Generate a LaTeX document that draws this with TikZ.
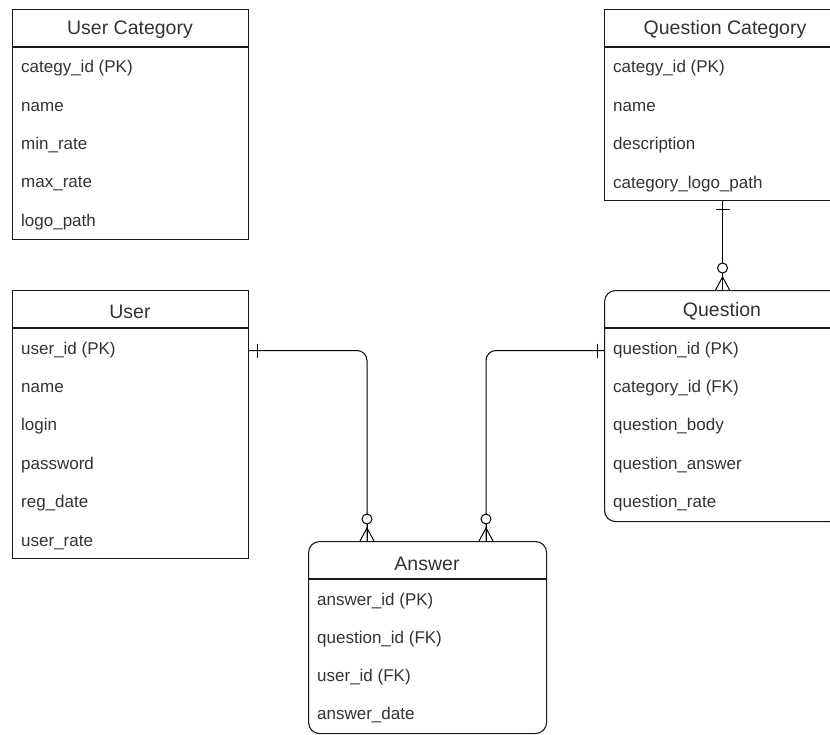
\documentclass[tikz,border=0pt]{standalone}
\usepackage{fontspec}
\setmainfont{Liberation Sans}
\definecolor{txt}{HTML}{333333}
\definecolor{linec}{HTML}{1A1A1A}
\tikzset{
  tbl/.style={draw=linec, line width=1.1pt, anchor=north west, inner sep=0pt, fill=white},
  hdr/.style={font=\fontsize{19.5}{20}\selectfont, text=txt, inner sep=0pt, yshift=-1.5pt},
  rowtxt/.style={font=\fontsize{17}{18}\selectfont, text=txt, anchor=west, inner sep=0pt, yshift=-1.5pt},
  conn/.style={draw=black, line width=1pt},
  zmany/.pic={
    \draw[line width=1pt] (-7pt,0pt) -- (0pt,13pt) -- (7pt,0pt);
    \draw[line width=1pt] (0pt,0pt) -- (0pt,17pt);
    \draw[line width=1pt, fill=white] (0pt,22pt) circle (5pt);
  }
}
\begin{document}
\begin{tikzpicture}[x=1pt,y=-1pt]
\clip (0,0) rectangle (830,734);
\useasboundingbox (0,0) rectangle (830,734);
\fill[white] (0,0) rectangle (830,734);

% User Category
\node[tbl, minimum width=236pt, minimum height=230pt] (uc) at (12,9) {};
\draw[line width=1.1pt, draw=linec] (12,47) -- (248,47);
\node[hdr] (uch) at (130,28) {User Category};
\node[rowtxt] (uc1) at (21,67) {categy\_id (PK)};
\node[rowtxt] (uc2) at (21,105.5) {name};
\node[rowtxt] (uc3) at (21,144) {min\_rate};
\node[rowtxt] (uc4) at (21,182.5) {max\_rate};
\node[rowtxt] (uc5) at (21,221) {logo\_path};

% Question Category
\node[tbl, minimum width=236pt, minimum height=191pt] (qc) at (604,9) {};
\draw[line width=1.1pt, draw=linec] (604,47) -- (840,47);
\node[hdr] (qch) at (725,28) {Question Category};
\node[rowtxt] (qc1) at (613,67) {categy\_id (PK)};
\node[rowtxt] (qc2) at (613,105.5) {name};
\node[rowtxt] (qc3) at (613,144) {description};
\node[rowtxt] (qc4) at (613,182.5) {category\_logo\_path};

% User
\node[tbl, minimum width=236pt, minimum height=268pt] (u) at (12,290) {};
\draw[line width=1.1pt, draw=linec] (12,328) -- (248,328);
\node[hdr] (uh) at (130,310) {User};
\node[rowtxt] (u1) at (21,349) {user\_id (PK)};
\node[rowtxt] (u2) at (21,387) {name};
\node[rowtxt] (u3) at (21,425) {login};
\node[rowtxt] (u4) at (21,464) {password};
\node[rowtxt] (u5) at (21,502) {reg\_date};
\node[rowtxt] (u6) at (21,541) {user\_rate};

% Question
\node[tbl, rounded corners=11pt, minimum width=236pt, minimum height=231pt] (q) at (604,290) {};
\draw[line width=1.1pt, draw=linec] (604,328) -- (840,328);
\node[hdr] (qh) at (722,310) {Question};
\node[rowtxt] (q1) at (613,349) {question\_id (PK)};
\node[rowtxt] (q2) at (613,387) {category\_id (FK)};
\node[rowtxt] (q3) at (613,425) {question\_body};
\node[rowtxt] (q4) at (613,464) {question\_answer};
\node[rowtxt] (q5) at (613,502) {question\_rate};

% Answer
\node[tbl, rounded corners=11pt, minimum width=238pt, minimum height=192pt] (a) at (308,541) {};
\draw[line width=1.1pt, draw=linec] (308,579) -- (546,579);
\node[hdr] (ah) at (427,562) {Answer};
\node[rowtxt] (a1) at (317,600) {answer\_id (PK)};
\node[rowtxt] (a2) at (317,638) {question\_id (FK)};
\node[rowtxt] (a3) at (317,676) {user\_id (FK)};
\node[rowtxt] (a4) at (317,714) {answer\_date};

% connector end points on Answer top
\coordinate (ua) at (367,541);
\coordinate (qa) at (486,541);

% User -> Answer
\draw[conn, rounded corners=10pt] (u.east |- u1.west) -| (ua);
\draw[conn] ([xshift=8pt]u.east |- u1.west) ++(0,-7) -- ++(0,14);
\pic at (ua) {zmany};

% Question -> Answer
\draw[conn, rounded corners=10pt] (q.west |- q1.west) -| (qa);
\draw[conn] ([xshift=-7pt]q.west |- q1.west) ++(0,-7) -- ++(0,14);
\pic at (qa) {zmany};

% Question Category -> Question
\draw[conn] (qc.south) -- (q.north);
\draw[conn] ([yshift=-8pt]qc.south) ++(-7,0) -- ++(14,0);
\pic at (q.north) {zmany};
\end{tikzpicture}
\end{document}
